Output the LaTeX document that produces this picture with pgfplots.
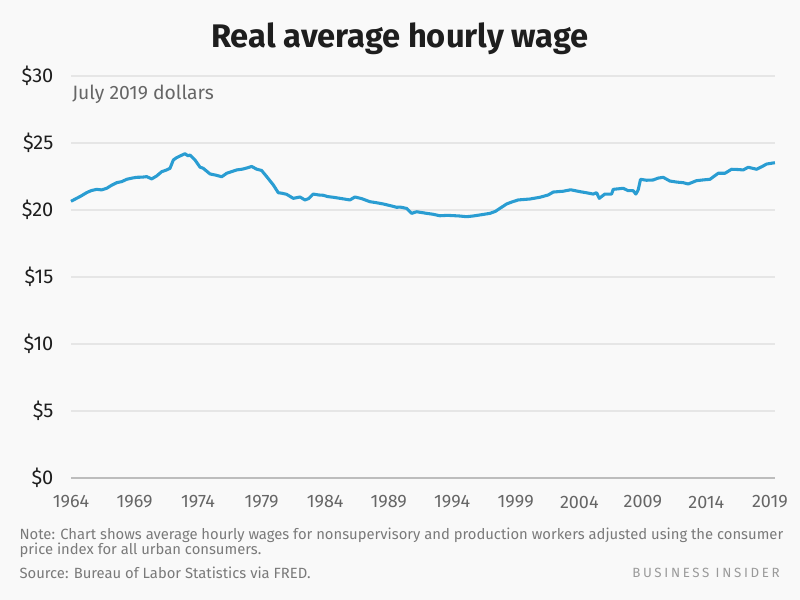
\documentclass[border=0pt]{standalone}
\usepackage{fontspec}
\setmainfont{Fira Sans}
\usepackage{pgfplots}
\usepackage{pgfplotstable}
\pgfplotsset{compat=1.18}

\definecolor{bg}{HTML}{F9F9F9}
\definecolor{wage}{HTML}{2A9DD2}
\definecolor{gridc}{HTML}{E6E6E6}
\definecolor{zeroc}{HTML}{BDBDBD}
\definecolor{ytxt}{HTML}{1E1E1E}
\definecolor{xtxt}{HTML}{666666}
\definecolor{foot}{HTML}{7A7A7A}
\definecolor{bic}{HTML}{9A9A9A}

\pgfplotstableread{
year wage
1964.00 20.65
1964.40 20.85
1964.80 21.05
1965.24 21.30
1965.60 21.45
1966.02 21.54
1966.40 21.50
1966.81 21.62
1967.20 21.85
1967.60 22.04
1968.00 22.12
1968.38 22.29
1968.80 22.38
1969.17 22.44
1969.60 22.45
1969.96 22.49
1970.35 22.32
1970.74 22.54
1971.14 22.86
1971.50 22.98
1971.79 23.11
1972.05 23.73
1972.30 23.90
1972.58 24.03
1972.97 24.20
1973.20 24.05
1973.36 24.10
1973.76 23.73
1974.15 23.20
1974.41 23.11
1974.94 22.69
1975.40 22.60
1975.86 22.48
1976.25 22.74
1976.60 22.85
1977.04 22.99
1977.50 23.05
1978.00 23.18
1978.22 23.25
1978.60 23.05
1979.00 22.95
1979.40 22.49
1979.92 21.87
1980.31 21.29
1980.60 21.25
1980.97 21.17
1981.49 20.87
1982.02 20.97
1982.41 20.75
1982.70 20.85
1983.06 21.19
1983.50 21.12
1983.85 21.10
1984.20 21.00
1984.64 20.95
1985.30 20.85
1985.95 20.75
1986.34 20.97
1986.87 20.85
1987.52 20.62
1988.00 20.55
1988.57 20.45
1989.23 20.30
1989.63 20.20
1989.89 20.22
1990.41 20.12
1990.81 19.75
1991.20 19.87
1991.99 19.75
1992.50 19.68
1993.03 19.57
1993.60 19.60
1994.08 19.58
1994.60 19.55
1995.13 19.50
1995.70 19.56
1996.18 19.63
1996.97 19.75
1997.40 19.90
1997.75 20.12
1998.28 20.45
1998.70 20.60
1999.19 20.75
2000.11 20.82
2000.90 20.95
2001.55 21.12
2001.95 21.34
2002.73 21.40
2003.32 21.51
2004.05 21.37
2004.60 21.28
2005.09 21.19
2005.36 21.29
2005.57 20.87
2006.01 21.19
2006.54 21.19
2006.67 21.54
2007.45 21.62
2007.85 21.44
2008.24 21.44
2008.45 21.19
2008.63 21.49
2008.82 22.29
2009.29 22.22
2009.81 22.24
2010.20 22.38
2010.60 22.44
2011.13 22.16
2011.70 22.08
2012.17 22.04
2012.57 21.94
2013.23 22.19
2013.80 22.25
2014.28 22.29
2014.93 22.74
2015.46 22.74
2015.98 23.04
2016.50 23.02
2016.90 22.99
2017.29 23.19
2017.95 23.04
2018.40 23.25
2018.74 23.43
2019.39 23.53
}\wagedata

\begin{document}
\begin{tikzpicture}
\fill[bg] (0,0) rectangle (600pt,450pt);
\useasboundingbox (0,0) rectangle (600pt,450pt);

\begin{axis}[
    at={(53.25pt,91.5pt)}, anchor=south west,
    scale only axis, width=528pt, height=301.5pt,
    xmin=1964, xmax=2019.4, ymin=0, ymax=30,
    clip=false,
    axis line style={draw=none},
    major tick length=0pt,
    xtick={1964,1969,...,2019},
    ytick={5,10,...,30},
    yticklabels={\$5,\$10,\$15,\$20,\$25,\$30},
    extra y ticks={0},
    extra y tick labels={\$0},
    extra y tick style={grid style={zeroc, line width=1.5pt}},
    ymajorgrids,
    grid style={gridc, line width=1.5pt},
    /pgf/number format/assume math mode=true,
    /pgf/number format/set thousands separator={},
    xticklabel style={font=\fontsize{13.5}{15}\selectfont, text=xtxt,
        anchor=center, yshift=-18pt, inner sep=0pt},
    yticklabel style={font=\fontsize{15}{17}\selectfont, text=ytxt,
        anchor=east, xshift=-13pt, inner sep=0pt},
  ]
  \addplot[wage, line width=2.3pt, line join=round] table[x=year, y=wage] {\wagedata};
\end{axis}

\node[font=\fontsize{24.5}{28}\selectfont\bfseries, text=ytxt] at (300pt,421pt)
  {Real average hourly wage};
\node[font=\fontsize{14.5}{17}\selectfont, text=xtxt, anchor=west, inner sep=0pt]
  at (54pt,379.5pt) {July 2019 dollars};

\node[font=\fontsize{11.1}{13}\selectfont, text=foot, anchor=west, inner sep=0pt]
  at (14.5pt,48.75pt) {Note: Chart shows average hourly wages for nonsupervisory and production workers adjusted using the consumer};
\node[font=\fontsize{11.1}{13}\selectfont, text=foot, anchor=west, inner sep=0pt]
  at (14.5pt,37.5pt) {price index for all urban consumers.};
\node[font=\fontsize{11.1}{13}\selectfont, text=foot, anchor=west, inner sep=0pt]
  at (14.5pt,20.25pt) {Source: Bureau of Labor Statistics via FRED.};
\node[font=\fontsize{10}{12}\selectfont\addfontfeature{LetterSpace=20}, text=bic,
  anchor=east, inner sep=0pt] at (585pt,20.25pt) {BUSINESS INSIDER};
\end{tikzpicture}
\end{document}
